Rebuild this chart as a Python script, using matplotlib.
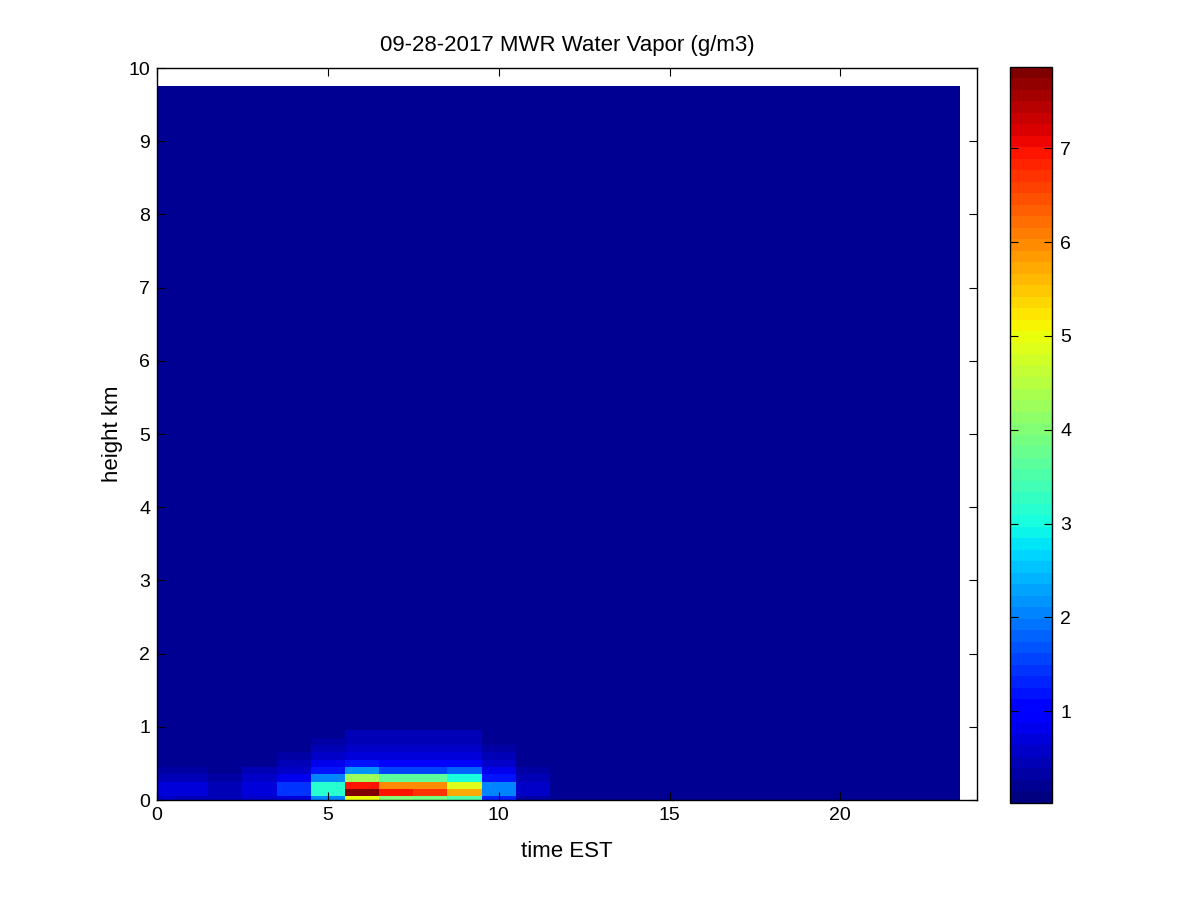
import numpy as np
import matplotlib
matplotlib.use("Agg")
import matplotlib.pyplot as plt

plt.rcParams['font.family'] = ['Liberation Sans', 'DejaVu Sans']
plt.rcParams['font.size'] = 14

# CONFIG
TITLE = "09-28-2017 MWR Water Vapor (g/m3)"
V_MIN, V_MAX = 0.02, 7.87

# hourly profiles, time in hours EST
time_hr = np.arange(0, 24)
# lowest retrieval levels (km), 100 m spacing
low_height_km = np.array([0.0, 0.1, 0.2, 0.3, 0.4, 0.5, 0.6, 0.7, 0.8, 0.9])
top_height_km = 9.75

# water vapor density g/m3, one row per low level, one value per hour
wv_000 = [0.55, 0.5, 0.4, 0.55, 0.65, 2.0, 5.0, 4.0, 3.9, 3.5, 1.3, 0.35] + [0.2] * 12
wv_100 = [0.75, 0.65, 0.45, 0.75, 1.4, 3.1, 7.8, 6.9, 6.7, 5.7, 2.1, 0.55] + [0.2] * 12
wv_200 = [0.75, 0.65, 0.45, 0.75, 1.4, 3.1, 7.0, 6.0, 6.0, 4.9, 2.1, 0.55] + [0.2] * 12
wv_300 = [0.5, 0.45, 0.35, 0.6, 0.85, 2.0, 4.3, 3.6, 3.6, 3.0, 1.2, 0.4] + [0.15] * 12
wv_400 = [0.3, 0.3, 0.25, 0.4, 0.6, 1.2, 2.2, 1.6, 1.6, 1.8, 0.85, 0.3] + [0.15] * 12
wv_500 = [0.2, 0.2, 0.2, 0.25, 0.4, 0.8, 1.2, 1.0, 1.0, 1.0, 0.6, 0.2] + [0.15] * 12
wv_600 = [0.15, 0.15, 0.15, 0.2, 0.3, 0.6, 0.75, 0.7, 0.7, 0.7, 0.45, 0.15] + [0.15] * 12
wv_700 = [0.15, 0.15, 0.15, 0.15, 0.2, 0.45, 0.6, 0.55, 0.55, 0.55, 0.3, 0.15] + [0.15] * 12
wv_800 = [0.15, 0.15, 0.15, 0.15, 0.15, 0.35, 0.5, 0.45, 0.45, 0.45, 0.2, 0.15] + [0.15] * 12
wv_900 = [0.15, 0.15, 0.15, 0.15, 0.15, 0.25, 0.45, 0.4, 0.4, 0.4, 0.15, 0.15] + [0.15] * 12
# everything above 1 km is at the bottom of the scale
wv_upper = [0.15] * 24


def main():
    wv = np.array([wv_000, wv_100, wv_200, wv_300, wv_400, wv_500,
                   wv_600, wv_700, wv_800, wv_900, wv_upper])

    # cell edges half way between profile times / levels
    x_edges = np.r_[0, time_hr[:-1] + 0.5, time_hr[-1] + 0.5]
    dz = low_height_km[1] - low_height_km[0]
    y_edges = np.r_[0, low_height_km[1:] - dz / 2, low_height_km[-1] + dz / 2, top_height_km]

    fig = plt.figure(figsize=(12, 9), dpi=100)
    ax = fig.add_axes([0.1308, 0.1111, 0.6834, 0.8133])
    cmap = plt.get_cmap('jet', 64)
    mesh = ax.pcolormesh(x_edges, y_edges, wv, cmap=cmap, vmin=V_MIN, vmax=V_MAX,
                         shading='flat')

    ax.set_xlim(0, 24)
    ax.set_ylim(0, 10)
    ax.set_xticks([0, 5, 10, 15, 20])
    ax.set_yticks(range(0, 11))
    ax.tick_params(direction='in', top=True, right=True, length=6, width=0.8,
                   labelsize=14, pad=5)
    for s in ax.spines.values():
        s.set_linewidth(1.0)
    ax.set_xlabel("time EST", fontsize=16, labelpad=12)
    ax.set_ylabel("height km", fontsize=16, labelpad=4)
    ax.set_title(TITLE, fontsize=16, pad=12)

    cax = fig.add_axes([0.8417, 0.1078, 0.035, 0.818])
    cb = fig.colorbar(mesh, cax=cax, ticks=range(1, 8))
    cb.outline.set_linewidth(1.0)
    cax.tick_params(direction='in', left=True, right=True, length=6, width=0.8,
                    labelsize=14, pad=6)

    fig.savefig("out.png", dpi=100)


if __name__ == "__main__":
    main()
